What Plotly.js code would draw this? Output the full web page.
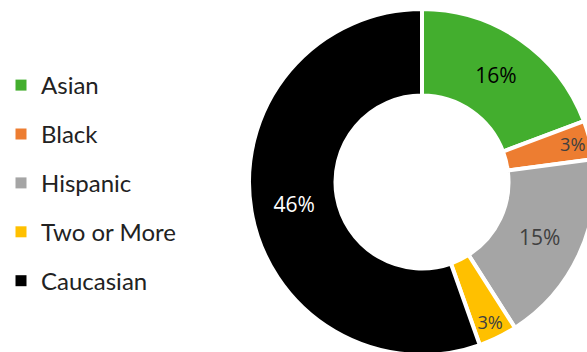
<!DOCTYPE html>
<html>
<head>
<meta charset="utf-8">
<script src="https://cdn.plot.ly/plotly-3.0.1.min.js"></script>
<style>
html,body{margin:0;padding:0;overflow:hidden;background:#fff;}
#chart{width:600px;height:360px;}
</style>
</head>
<body>
<div id="chart"></div>
<script>
var categories = ["Asian", "Black", "Hispanic", "Two or More", "Caucasian"];
var values = [16, 3, 15, 3, 46];
var colors = ["#43AE2E", "#ED7D31", "#A5A5A5", "#FFC000", "#000000"];
var labelColors = ["#000000", "#404040", "#404040", "#404040", "#FFFFFF"];

var W = 600, H = 360;

var pie = {
  type: "pie",
  labels: categories,
  values: values,
  sort: false,
  direction: "clockwise",
  rotation: 0,
  hole: 0.5,
  marker: {colors: colors, line: {color: "#FFFFFF", width: 4}},
  texttemplate: "%{value}%",
  textposition: "inside",
  insidetextorientation: "horizontal",
  textfont: {family: "Open Sans, sans-serif", size: 21, color: labelColors},
  showlegend: false,
  hoverinfo: "none",
  domain: {x: [249 / W, 595 / W], y: [5 / H, 351 / H]}
};

var legendTraces = categories.map(function (c, i) {
  return {
    type: "scatter",
    mode: "markers",
    x: [null], y: [null],
    name: c,
    legendgroup: "g" + i,
    marker: {symbol: "square", size: 11, color: colors[i]},
    hoverinfo: "none"
  };
});

var layout = {
  width: W, height: H,
  margin: {l: 0, r: 0, t: 0, b: 0},
  paper_bgcolor: "#FFFFFF",
  plot_bgcolor: "#FFFFFF",
  xaxis: {visible: false, domain: [0, 0.01]},
  yaxis: {visible: false, domain: [0, 0.01]},
  showlegend: true,
  legend: {
    x: 1 / W, xanchor: "left",
    y: 1 - 63 / H, yanchor: "top",
    font: {family: "Lato, sans-serif", size: 24, color: "#222222"},
    tracegroupgap: 14.7,
    bgcolor: "rgba(0,0,0,0)"
  }
};

Plotly.newPlot("chart", legendTraces.concat([pie]), layout, {displayModeBar: false, staticPlot: true});
</script>
</body>
</html>
